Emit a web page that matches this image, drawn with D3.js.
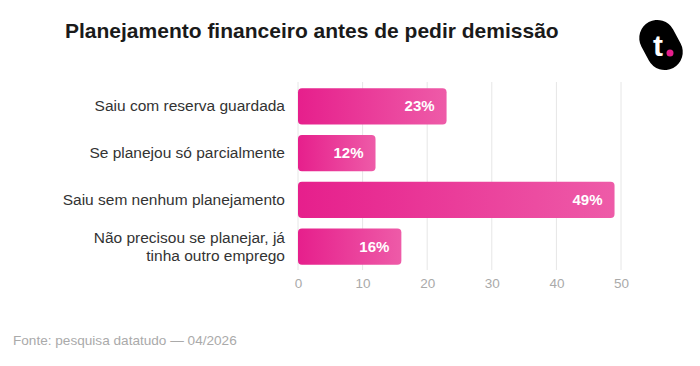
<!doctype html>
<html>
<head>
    <meta charset="utf-8">
    <script src="https://d3js.org/d3.v7.min.js"></script>
    <style>
        body { margin: 0; background: #fff; }
        text { font-family: "Liberation Sans", Arial, sans-serif; }
    </style>
</head>
<body>
    <script>
        // dados
        let categories = ["Saiu com reserva guardada", "Se planejou só parcialmente", "Saiu sem nenhum planejamento", "Não precisou se planejar, já|tinha outro emprego"];
        let values = [23, 12, 49, 16];
        let ticks = [0, 10, 20, 30, 40, 50];

        let svg = d3.select("body").append("svg")
                    .attr("width", 700).attr("height", 366);

        let defs = svg.append("defs");
        let grad = defs.append("linearGradient").attr("id", "barGrad")
                       .attr("x1", "0%").attr("x2", "100%").attr("y1", "0%").attr("y2", "0%");
        grad.append("stop").attr("offset", "0%").attr("stop-color", "#e61f8c");
        grad.append("stop").attr("offset", "100%").attr("stop-color", "#ee5ba8");

        let x = d3.scaleLinear().domain([0, 50]).range([298, 621]);
        let y = d3.scaleBand().domain(categories).range([83, 270])
                  .paddingInner(0.22).paddingOuter(0.11);

        // titulo
        svg.append("text").attr("x", 65).attr("y", 38)
           .style("font-size", "21px").style("font-weight", "bold").style("fill", "#1a1a1a")
           .text("Planejamento financeiro antes de pedir demissão");

        // grade
        svg.selectAll("line.grid").data(ticks).enter().append("line")
           .attr("x1", d => x(d)).attr("x2", d => x(d))
           .attr("y1", 82).attr("y2", 270)
           .style("stroke", "#e6e6e6").style("stroke-width", 1);

        // eixo x
        let xAxis = svg.append("g").attr("transform", "translate(0,272)")
                       .call(d3.axisBottom(x).tickValues(ticks).tickSize(0).tickPadding(6));
        xAxis.select(".domain").remove();
        xAxis.selectAll("text").style("font-size", "13.5px").style("fill", "#aaa")
             .style("font-family", "Liberation Sans, Arial, sans-serif");

        // barras
        svg.selectAll("rect.bar").data(values).enter().append("rect")
           .attr("x", x(0))
           .attr("y", (d, i) => y(categories[i]))
           .attr("width", d => x(d) - x(0))
           .attr("height", y.bandwidth())
           .attr("rx", 4)
           .style("fill", "url(#barGrad)");

        // rotulos de valor
        svg.selectAll("text.val").data(values).enter().append("text")
           .attr("x", d => x(d) - 12)
           .attr("y", (d, i) => y(categories[i]) + y.bandwidth() / 2 + 5)
           .attr("text-anchor", "end")
           .style("font-size", "15px").style("font-weight", "bold").style("fill", "#fff")
           .text(d => d + "%");

        // rotulos de categoria
        categories.forEach(function(c) {
            let lines = c.split("|");
            let cy = y(c) + y.bandwidth() / 2;
            let t = svg.append("text").attr("text-anchor", "end")
                       .style("font-size", "15.5px").style("fill", "#333");
            lines.forEach(function(l, j) {
                t.append("tspan").attr("x", 285)
                 .attr("y", cy + 5 + (j - (lines.length - 1) / 2) * 18)
                 .text(l);
            });
        });

        // fonte
        svg.append("text").attr("x", 13).attr("y", 345)
           .style("font-size", "13.6px").style("fill", "#aaa")
           .text("Fonte: pesquisa datatudo — 04/2026");

        // logo
        let logo = svg.append("g").attr("transform", "translate(661,45)");
        logo.append("rect").attr("x", -26).attr("y", -18).attr("width", 52).attr("height", 36)
            .attr("rx", 18).attr("transform", "rotate(62)").style("fill", "#000");
        logo.append("text").attr("x", -3).attr("y", 11).attr("text-anchor", "middle")
            .style("font-size", "30px").style("font-weight", "bold").style("fill", "#fff")
            .text("t");
        logo.append("circle").attr("cx", 9).attr("cy", 8).attr("r", 3.5).style("fill", "#e61f8c");
    </script>
</body>
</html>
